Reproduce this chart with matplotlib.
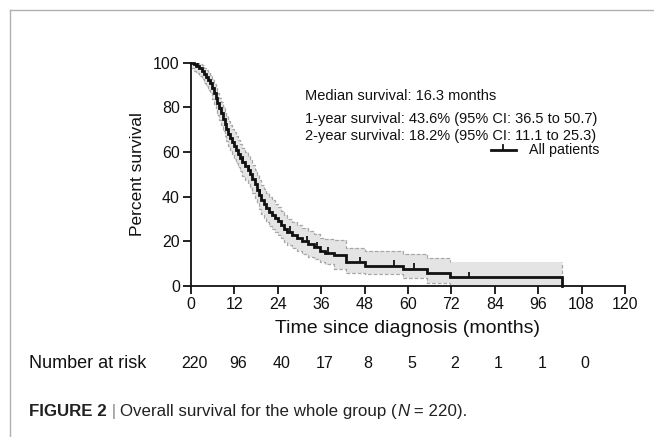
import numpy as np
import matplotlib
matplotlib.use("Agg")
import matplotlib.pyplot as plt
from matplotlib.lines import Line2D
from matplotlib.text import Annotation
from matplotlib.transforms import blended_transform_factory

plt.rcParams['font.family'] = ['Liberation Sans', 'DejaVu Sans']

# Kaplan-Meier steps (months, % surviving after the step)
months = [0, 0.8, 1.5, 2.2, 3.0, 3.6, 4.2, 4.8, 5.3, 5.8, 6.3, 6.8, 7.3, 7.8, 8.3,
          8.8, 9.3, 9.8, 10.3, 10.8, 11.3, 11.8, 12.4, 13.0, 13.6, 14.2, 15.0, 15.8,
          16.4, 17.0, 17.6, 18.2, 18.8, 19.4, 20.1, 20.8, 21.6, 22.4, 23.2, 24.0,
          24.8, 25.6, 26.6, 27.8, 29.2, 30.8, 32.4, 34.0, 35.8, 37.0, 39.5, 43.0,
          48.1, 58.7, 65.2, 71.6, 102.7]
survival = [100, 99.5, 98.6, 97.7, 96.4, 95.0, 93.6, 92.3, 90.9, 88.6, 86.4, 84.1, 81.8,
            79.5, 77.3, 75.0, 72.7, 70.5, 68.2, 66.4, 64.5, 62.7, 60.9, 59.1, 57.3, 55.5,
            53.6, 51.8, 50.0, 47.7, 45.5, 43.2, 40.9, 38.6, 36.8, 35.0, 33.2, 31.8, 30.5,
            29.1, 27.3, 25.5, 24.1, 22.7, 21.4, 20.0, 18.6, 17.3, 15.9, 15.0, 13.9, 10.6,
            9.1, 7.6, 5.7, 3.9, 0]
ci_upper = [100, 100, 100, 99.6, 98.8, 97.8, 96.7, 95.6, 94.5, 92.5, 90.6, 88.6, 86.5,
            84.4, 82.4, 80.3, 78.2, 76.1, 74.0, 72.3, 70.5, 68.8, 67.1, 65.4, 63.6, 61.9,
            60.1, 58.4, 56.6, 54.3, 52.1, 49.8, 47.5, 45.2, 43.4, 41.6, 39.7, 38.3, 36.9,
            35.5, 33.6, 31.7, 30.2, 28.8, 27.4, 26.0, 24.5, 23.1, 21.6, 20.9, 20.6, 17.2,
            15.7, 14.2, 12.7, 10.6, 10.6]
ci_lower = [97.5, 96.5, 95.5, 94.2, 92.7, 91.0, 89.4, 87.9, 86.3, 83.8, 81.5, 79.1, 76.7,
            74.3, 72.0, 69.6, 67.3, 64.9, 62.6, 60.7, 58.8, 56.9, 55.0, 53.1, 51.3, 49.4,
            47.5, 45.6, 43.8, 41.5, 39.3, 37.0, 34.7, 32.4, 30.6, 28.8, 27.0, 25.6, 24.3,
            23.0, 21.3, 19.6, 18.3, 17.0, 15.8, 14.5, 13.2, 11.9, 10.6, 9.8, 7.8, 6.0,
            5.2, 3.4, 1.5, 0.3, 0.3]
censored = [1.0, 2.0, 14.3, 16.1, 19.1, 27.4, 32.0, 34.8, 38.0, 46.7, 56.1, 61.8, 76.9]

risk_months = [0, 12, 24, 36, 48, 60, 72, 84, 96, 108]
at_risk = [220, 96, 40, 17, 8, 5, 2, 1, 1, 0]

stats_lines = ["Median survival: 16.3 months",
               "1-year survival: 43.6% (95% CI: 36.5 to 50.7)",
               "2-year survival: 18.2% (95% CI: 11.1 to 25.3)"]

fig = plt.figure(figsize=(6.54, 4.37), dpi=100)
ax = fig.add_axes([0.2920, 0.3455, 0.6636, 0.5110])

ink = '#111111'

# confidence band
ax.fill_between(months, ci_lower, ci_upper, step='post', color='#e4e4e4', lw=0, zorder=1)
for band in (ci_upper, ci_lower):
    ax.step(months[:-1], band[:-1], where='post', color='#a8a8a8', lw=0.9,
            ls=(0, (3, 1.5)), zorder=2)
ax.plot([months[-1], months[-1]], [ci_lower[-1], ci_upper[-1]], color='#a8a8a8',
        lw=0.9, ls=(0, (3, 1.5)), zorder=2)

# survival curve + censor marks
ax.step(months, survival, where='post', color=ink, lw=2.0, zorder=3, clip_on=False,
        solid_joinstyle='miter')
idx = np.searchsorted(months, censored, side='right') - 1
cens_y = np.array(survival)[idx]
ax.vlines(censored, cens_y, cens_y + 2.6, color=ink, lw=1.3, zorder=3)

ax.set_xlim(0, 120)
ax.set_ylim(0, 100)
ax.set_xticks(range(0, 121, 12))
ax.set_yticks(range(0, 101, 20))
for s in ('top', 'right'):
    ax.spines[s].set_visible(False)
for s in ('left', 'bottom'):
    ax.spines[s].set_linewidth(1.3)
    ax.spines[s].set_color(ink)
ax.tick_params(length=6, width=1.3, color=ink, labelsize=11.5, labelcolor=ink, pad=2)
ax.set_ylabel('Percent survival', fontsize=12.5, color=ink, labelpad=6)
ax.set_xlabel('Time since diagnosis (months)', fontsize=14, color=ink, labelpad=6)

# summary text
for line, yy in zip(stats_lines, [96, 119, 136]):
    fig.text(305 / 654, 1 - yy / 437, line, fontsize=10.5, color=ink, va='center', ha='left')

# legend
ly = 1 - 150 / 437
fig.add_artist(Line2D([491 / 654, 516 / 654], [ly, ly], color=ink, lw=2.0))
fig.add_artist(Line2D([503.5 / 654, 503.5 / 654], [ly, ly + 5 / 437], color=ink, lw=1.3))
fig.text(529 / 654, ly, 'All patients', fontsize=10.3, color=ink, va='center', ha='left')

# number at risk
ry = 1 - 364 / 437
fig.text(29 / 654, ry, 'Number at risk', fontsize=13, color=ink, va='center', ha='left')
trans = blended_transform_factory(ax.transData, fig.transFigure)
for m, n in zip(risk_months, at_risk):
    ax.text(m + 1, ry, str(n), transform=trans, fontsize=11.5, color=ink,
            va='center', ha='center')

# caption, built from pieces placed one after another
cap_size = 12.2
prev = fig.text(29 / 654, 1 - 419 / 437, 'FIGURE 2', fontsize=cap_size, fontweight='bold',
                color='#222222', va='bottom', ha='left')
pieces = [(' | ', 'normal', '#888888'),
          ('Overall survival for the whole group (', 'normal', '#222222'),
          ('N', 'italic', '#222222'),
          (' = 220).', 'normal', '#222222')]
for txt, style, col in pieces:
    prev = fig.add_artist(Annotation(txt, xy=(1, 0), xycoords=prev, fontsize=cap_size,
                                     style=style, color=col, va='bottom', ha='left'))

# outer frame
fx, fy = 9.5 / 654, 1 - 9.5 / 437
fig.add_artist(Line2D([fx, fx], [0, fy], color='#b0b0b0', lw=1.0))
fig.add_artist(Line2D([fx, 1], [fy, fy], color='#b0b0b0', lw=1.0))

fig.savefig('out.png', dpi=100)
